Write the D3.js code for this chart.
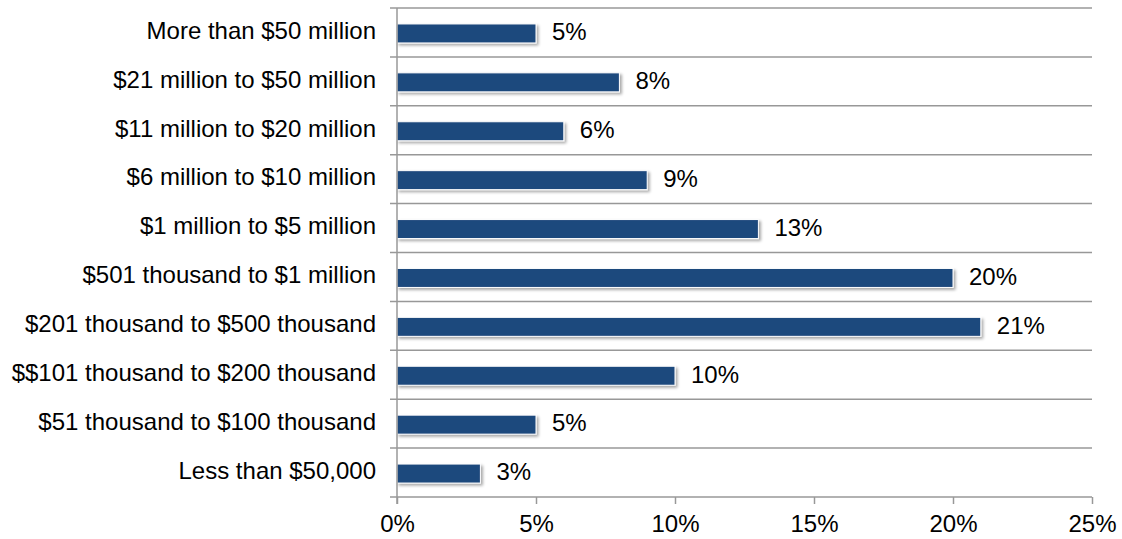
<!DOCTYPE html>
<html>
<head>
<meta charset="utf-8">
<script src="https://cdn.jsdelivr.net/npm/d3@7"></script>
<style>
  html, body { margin: 0; padding: 0; background: #fff; }
  svg { display: block; }
  text { font-family: "Liberation Sans", Arial, sans-serif; fill: #000; }
</style>
</head>
<body>
<svg id="chart" width="1122" height="539"></svg>
<script>
// Revenue bands, listed from the top row down
const categories = [
  "More than $50 million",
  "$21 million to $50 million",
  "$11 million to $20 million",
  "$6 million to $10 million",
  "$1 million to $5 million",
  "$501 thousand to $1 million",
  "$201 thousand to $500 thousand",
  "$$101 thousand to $200 thousand",
  "$51 thousand to $100 thousand",
  "Less than $50,000"
];
const values = [5, 8, 6, 9, 13, 20, 21, 10, 5, 3];
const xTicks = [0, 5, 10, 15, 20, 25];

const svg = d3.select("#chart");
const margin = { left: 397, right: 30, top: 8, bottom: 42 };
const W = 1122, H = 539;
const fontSize = 24;

const x = d3.scaleLinear().domain([0, 25]).range([margin.left, W - margin.right]);
const y = d3.scaleBand().domain(categories).range([margin.top, H - margin.bottom]).paddingInner(0).paddingOuter(0);

const defs = svg.append("defs");
const f = defs.append("filter").attr("id", "shadow").attr("x", "-5%").attr("y", "-30%").attr("width", "115%").attr("height", "180%");
f.append("feGaussianBlur").attr("in", "SourceAlpha").attr("stdDeviation", 1.5).attr("result", "b");
f.append("feOffset").attr("in", "b").attr("dx", 2).attr("dy", 2).attr("result", "o");
f.append("feComponentTransfer").attr("in", "o").attr("result", "s")
  .append("feFuncA").attr("type", "linear").attr("slope", 0.35);
const m = f.append("feMerge");
m.append("feMergeNode").attr("in", "s");
m.append("feMergeNode").attr("in", "SourceGraphic");

// Horizontal gridlines at band boundaries
const bounds = categories.map(c => y(c));
svg.append("g").selectAll("line").data(bounds).join("line")
  .attr("x1", x(0) - 7).attr("x2", x(25))
  .attr("y1", d => d).attr("y2", d => d)
  .attr("stroke", "#989898").attr("stroke-width", 1.5);

// Bars
const bh = 19;
svg.append("g").selectAll("rect").data(values).join("rect")
  .attr("x", x(0))
  .attr("y", (d, i) => y(categories[i]) + y.bandwidth() / 2 - bh / 2 + 1)
  .attr("width", d => x(d) - x(0))
  .attr("height", bh)
  .attr("fill", "#1f497d")
  .attr("stroke", "#ffffff").attr("stroke-width", 1)
  .attr("filter", "url(#shadow)");

// Value labels
svg.append("g").selectAll("text").data(values).join("text")
  .attr("x", d => x(d) + 16)
  .attr("y", (d, i) => y(categories[i]) + y.bandwidth() / 2 + 1.5)
  .attr("dominant-baseline", "middle")
  .attr("font-size", fontSize)
  .text(d => d + "%");

// Category labels
svg.append("g").selectAll("text").data(categories).join("text")
  .attr("x", x(0) - 21)
  .attr("y", d => y(d) + y.bandwidth() / 2)
  .attr("dominant-baseline", "middle")
  .attr("text-anchor", "end")
  .attr("font-size", fontSize)
  .text(d => d);

// Y axis line and baseline
const yBottom = y.range()[1];
svg.append("line").attr("x1", x(0)).attr("x2", x(0)).attr("y1", margin.top).attr("y2", yBottom + 7)
  .attr("stroke", "#989898").attr("stroke-width", 1.5);
svg.append("line").attr("x1", x(0) - 7).attr("x2", x(25)).attr("y1", yBottom).attr("y2", yBottom)
  .attr("stroke", "#989898").attr("stroke-width", 1.5);

// X axis
const xAxis = d3.axisBottom(x).tickValues(xTicks).tickFormat(d => d + "%").tickSize(7).tickSizeOuter(0);
const gx = svg.append("g").attr("transform", `translate(0,${yBottom})`).call(xAxis);
gx.select(".domain").remove();
gx.selectAll(".tick line").attr("stroke", "#989898").attr("stroke-width", 1.5);
gx.selectAll(".tick text").attr("font-size", fontSize).attr("font-family", "Liberation Sans, Arial, sans-serif")
  .attr("fill", "#000").attr("dy", null).attr("y", 35);
</script>
</body>
</html>
